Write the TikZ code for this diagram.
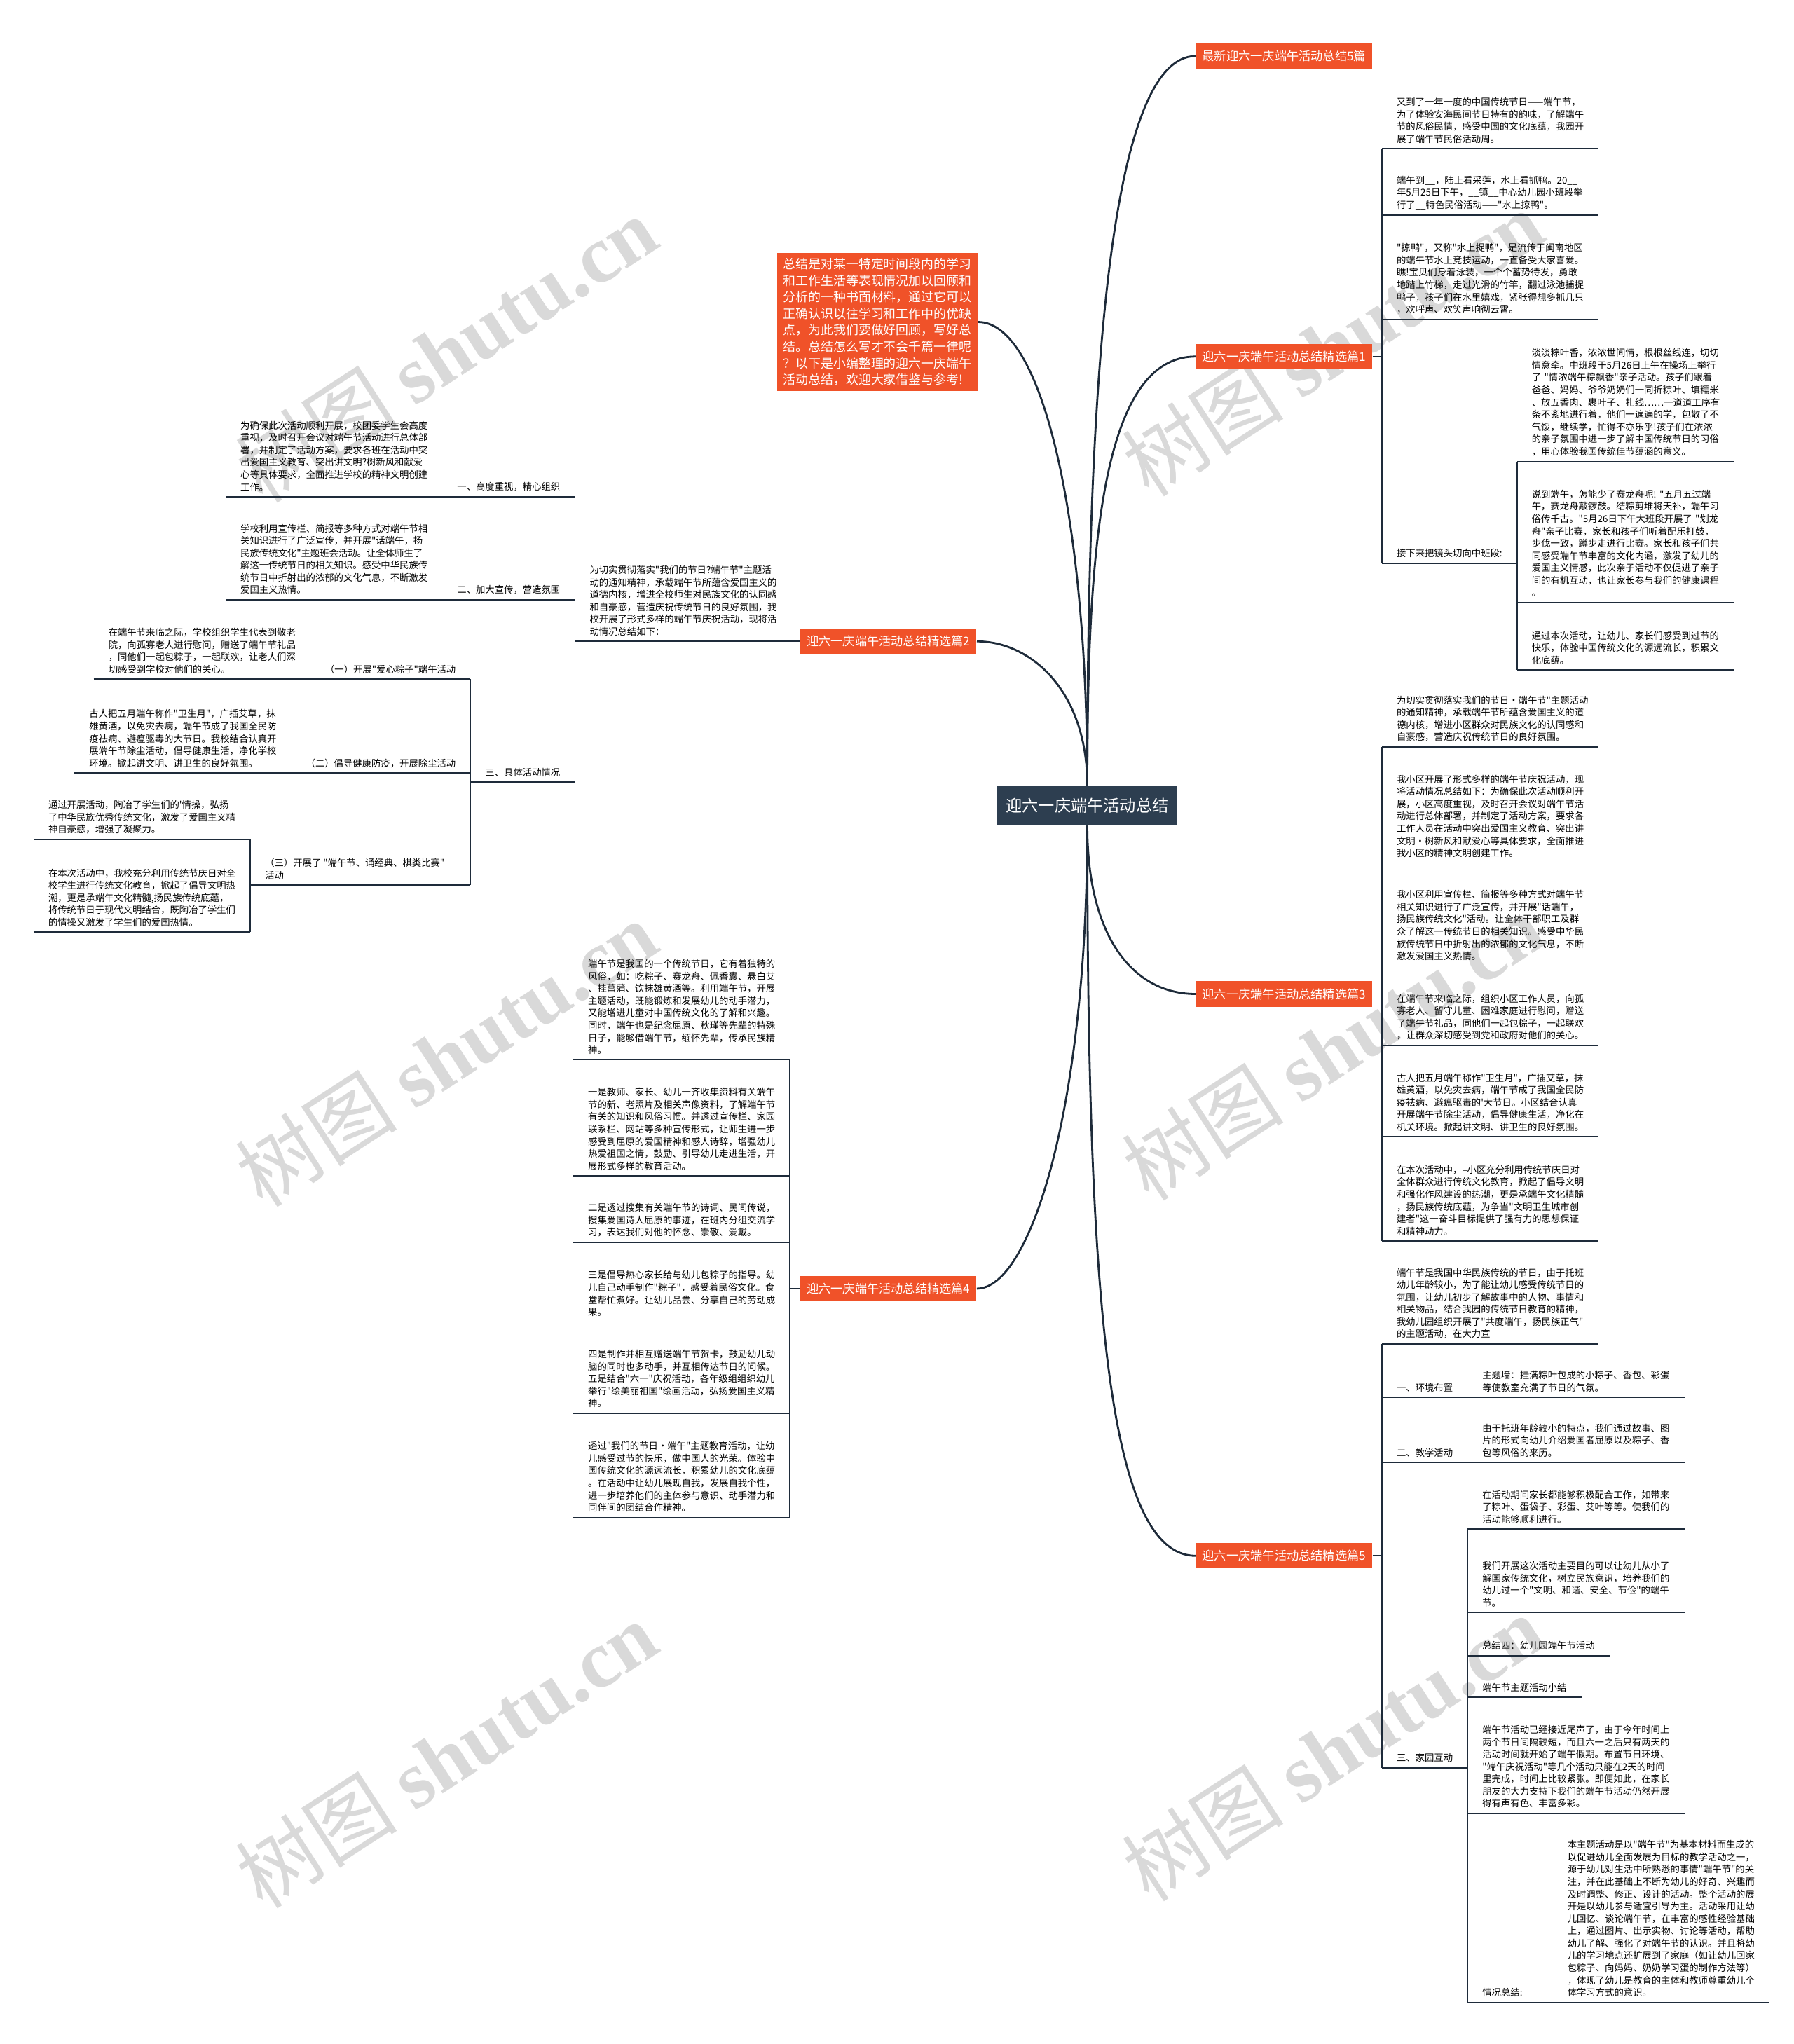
\documentclass[tikz,border=0pt]{standalone}
\usepackage{fontspec}
\usepackage{tikz}
\usetikzlibrary{positioning,calc}
\newfontfamily\cjk{Noto Sans CJK SC}
\newfontfamily\wmlatin{Liberation Serif}
\definecolor{topicred}{HTML}{F05229}
\definecolor{rootslate}{HTML}{2D3E50}
\definecolor{linknavy}{HTML}{1E2B3A}
\definecolor{wmgray}{HTML}{D9D9D9}
\tikzset{
  % knoten
  rootbox/.style={fill=rootslate,text=white,inner sep=0pt,minimum width=73pt,
             minimum height=15.9pt,font=\cjk\fontsize{6.6}{8}\selectfont},
  topic/.style={fill=topicred,text=white,inner sep=0pt,minimum width=71.4pt,
             minimum height=10.3pt,font=\cjk\fontsize{4.9}{6}\selectfont},
  note/.style={fill=topicred,text=white,inner xsep=2.4pt,inner ysep=2pt,
             text width=76.5pt,minimum height=56pt,align=left,
             font=\cjk\fontsize{5.1}{6.7}\selectfont},
  leaf/.style={inner xsep=5.8pt,inner ysep=2pt,text width=76pt,align=left,
             font=\cjk\fontsize{3.8}{5.0}\selectfont},
  word/.style={inner xsep=5.8pt,inner ysep=2pt,align=left,
             font=\cjk\fontsize{3.8}{5.0}\selectfont},
  wm/.style={text=wmgray,rotate=33,font=\cjk\fontsize{33}{33}\selectfont},
  % linjer
  ln/.style={draw=linknavy,line width=0.5pt},
  curve/.style={draw=linknavy,line width=0.8pt},
}
\begin{document}
\begin{tikzpicture}[x=0.18605mm,y=-0.18605mm]
\useasboundingbox (0,0) rectangle (1376,1568);
\fill[white] (0,0) rectangle (1376,1568);
\foreach \wx/\wy in {342/268,342/808,342/1346,1022/263,1022/803,1022/1341}
  \node[wm] (wm\wx\wy) at (\wx,\wy) {树图~{\wmlatin\bfseries shutu.cn}};

\node[rootbox] (root) at (834,618) {迎六一庆端午活动总结};
\node[topic] (p0) at (985,43) {最新迎六一庆端午活动总结5篇};
\node[topic] (p1) at (985,273.5) {迎六一庆端午活动总结精选篇1};
\node[note] (sum) at (673,247) {总结是对某一特定时间段内的学习\\和工作生活等表现情况加以回顾和\\分析的一种书面材料，通过它可以\\正确认识以往学习和工作中的优缺\\点，为此我们要做好回顾，写好总\\结。总结怎么写才不会千篇一律呢\\？以下是小编整理的迎六一庆端午\\活动总结，欢迎大家借鉴与参考!};
\node[topic] (p2) at (681.5,492) {迎六一庆端午活动总结精选篇2};
\node[topic] (p3) at (985,762.5) {迎六一庆端午活动总结精选篇3};
\node[topic] (p4) at (681.5,988.5) {迎六一庆端午活动总结精选篇4};
\node[topic] (p5) at (985,1193.5) {迎六一庆端午活动总结精选篇5};

\draw[curve] (root.north) .. controls +(0,-303) and +(-67,0) .. (p0.west);
\draw[curve] (root.north) .. controls +(0,-183) and +(-72,0) .. (p1.west);
\draw[curve] (root.north) .. controls +(0,-203) and +(50,0) .. (sum.east);
\draw[curve] (root.north) .. controls +(0,-73) and +(41,0) .. (p2.east);
\draw[curve] (root.south) .. controls +(0,87) and +(-47,0) .. (p3.west);
\draw[curve] (root.south) .. controls +(0,217) and +(41,0) .. (p4.east);
\draw[curve] (root.south) .. controls +(0,367) and +(-67,0) .. (p5.west);

\node[leaf,anchor=south west] (p1a) at (1060,114) {又到了一年一度的中国传统节日——端午节，\\为了体验安海民间节日特有的韵味，了解端午\\节的风俗民情，感受中国的文化底蕴，我园开\\展了端午节民俗活动周。};
\node[leaf,anchor=south west] (p1b) at (1060,165) {端午到\_\_，陆上看采莲，水上看抓鸭。20\_\_\\年5月25日下午，\_\_镇\_\_中心幼儿园小班段举\\行了\_\_特色民俗活动——"水上掠鸭"。};
\node[leaf,anchor=south west] (p1c) at (1060,245) {"掠鸭"，又称"水上捉鸭"，是流传于闽南地区\\的端午节水上竞技运动，一直备受大家喜爱。\\瞧!宝贝们身着泳装，一个个蓄势待发，勇敢\\地踏上竹梯，走过光滑的竹竿，翻过泳池捕捉\\鸭子，孩子们在水里嬉戏，紧张得想多抓几只\\，欢呼声、欢笑声响彻云霄。};
\node[word,anchor=south west] (p1d) at (1060,432) {接下来把镜头切向中班段:};
\node[leaf,anchor=south west] (p1e) at (p1d.south east |- 0,354) {淡淡粽叶香，浓浓世间情，根根丝线连，切切\\情意牵。中班段于5月26日上午在操场上举行\\了~"情浓端午粽飘香"亲子活动。孩子们跟着\\爸爸、妈妈、爷爷奶奶们一同折粽叶、填糯米\\、放五香肉、裹叶子、扎线……一道道工序有\\条不紊地进行着，他们一遍遍的学，包散了不\\气馁，继续学，忙得不亦乐乎!孩子们在浓浓\\的亲子氛围中进一步了解中国传统节日的习俗\\，用心体验我国传统佳节蕴涵的意义。};
\node[leaf,anchor=south west] (p1f) at (p1d.south east |- 0,462) {说到端午，怎能少了赛龙舟呢!~"五月五过端\\午，赛龙舟敲锣鼓。结粽剪堆将天补，端午习\\俗传千古。"5月26日下午大班段开展了~"划龙\\舟"亲子比赛，家长和孩子们听着配乐打鼓，\\步伐一致，蹲步走进行比赛。家长和孩子们共\\同感受端午节丰富的文化内涵，激发了幼儿的\\爱国主义情感，此次亲子活动不仅促进了亲子\\间的有机互动，也让家长参与我们的健康课程\\。};
\node[leaf,anchor=south west] (p1g) at (p1d.south east |- 0,514) {通过本次活动，让幼儿、家长们感受到过节的\\快乐，体验中国传统文化的源远流长，积累文\\化底蕴。};
\foreach \n in {p1a,p1b,p1c,p1d,p1e,p1f,p1g}
  \draw[ln] (\n.south west) -- (\n.south east);
\draw[ln] (p1a.south west) -- (p1d.south west);
\draw[ln] (p1e.south west) -- (p1g.south west);
\draw[ln] (p1.east) -- (p1.east -| p1a.south west);

\node[leaf,anchor=south west] (p2a) at (441,492) {为切实贯彻落实"我们的节日?端午节"主题活\\动的通知精神，承载端午节所蕴含爱国主义的\\道德内核，增进全校师生对民族文化的认同感\\和自豪感，营造庆祝传统节日的良好氛围，我\\校开展了形式多样的端午节庆祝活动，现将活\\动情况总结如下：};
\node[word,anchor=south east] (p2b) at (441,381) {一、高度重视，精心组织};
\node[leaf,anchor=south east] (p2b1) at (p2b.south west) {为确保此次活动顺利开展，校团委学生会高度\\重视，及时召开会议对端午节活动进行总体部\\署，并制定了活动方案，要求各班在活动中突\\出爱国主义教育、突出讲文明?树新风和献爱\\心等具体要求，全面推进学校的精神文明创建\\工作。};
\node[word,anchor=south east] (p2c) at (441,460) {二、加大宣传，营造氛围};
\node[leaf,anchor=south east] (p2c1) at (p2c.south west) {学校利用宣传栏、简报等多种方式对端午节相\\关知识进行了广泛宣传，并开展"话端午，扬\\民族传统文化"主题班会活动。让全体师生了\\解这一传统节日的相关知识。感受中华民族传\\统节日中折射出的浓郁的文化气息，不断激发\\爱国主义热情。};
\node[word,anchor=south east] (p2d) at (441,600) {三、具体活动情况};
\node[word,anchor=south east] (p2e) at (p2d.south west |- 0,521) {（一）开展"爱心粽子"端午活动};
\node[leaf,anchor=south east] (p2e1) at (p2e.south west) {在端午节来临之际，学校组织学生代表到敬老\\院，向孤寡老人进行慰问，赠送了端午节礼品\\，同他们一起包粽子，一起联欢，让老人们深\\切感受到学校对他们的关心。};
\node[word,anchor=south east] (p2f) at (p2d.south west |- 0,593) {（二）倡导健康防疫，开展除尘活动};
\node[leaf,anchor=south east] (p2f1) at (p2f.south west) {古人把五月端午称作"卫生月"，广插艾草，抹\\雄黄酒，以免灾去病，端午节成了我国全民防\\疫祛病、避瘟驱毒的大节日。我校结合认真开\\展端午节除尘活动，倡导健康生活，净化学校\\环境。掀起讲文明、讲卫生的良好氛围。};
\node[word,anchor=south west] (p2g) at (192,679) {（三）开展了~"端午节、诵经典、棋类比赛"\\活动};
\node[leaf,anchor=south east] (p2g1) at (p2g.south west |- 0,644) {通过开展活动，陶冶了学生们的'情操，弘扬\\了中华民族优秀传统文化，激发了爱国主义精\\神自豪感，增强了凝聚力。};
\node[leaf,anchor=south east] (p2g2) at (p2g.south west |- 0,715) {在本次活动中，我校充分利用传统节庆日对全\\校学生进行传统文化教育，掀起了倡导文明热\\潮，更是承端午文化精髓,扬民族传统底蕴，\\将传统节日于现代文明结合，既陶冶了学生们\\的情操又激发了学生们的爱国热情。};
\draw[ln] (p2a.south west) -- (p2.west);
\draw[ln] (p2b1.south west) -- (p2b.south east);
\draw[ln] (p2c1.south west) -- (p2c.south east);
\draw[ln] (p2d.south west) -- (p2d.south east);
\draw[ln] (p2b.south east) -- (p2d.south east);
\draw[ln] (p2e1.south west) -- (p2e.south east);
\draw[ln] (p2f1.south west) -- (p2f.south east);
\draw[ln] (p2g.south west) -- (p2g.south west -| p2e.south east);
\draw[ln] (p2e.south east) -- (p2g.south west -| p2e.south east);
\draw[ln] (p2g1.south west) -- (p2g1.south east);
\draw[ln] (p2g2.south west) -- (p2g2.south east);
\draw[ln] (p2g1.south east) -- (p2g2.south east);

\node[leaf,anchor=south west] (p3a) at (1060,573) {为切实贯彻落实我们的节日·端午节"主题活动\\的通知精神，承载端午节所蕴含爱国主义的道\\德内核，增进小区群众对民族文化的认同感和\\自豪感，营造庆祝传统节日的良好氛围。};
\node[leaf,anchor=south west] (p3b) at (1060,662) {我小区开展了形式多样的端午节庆祝活动，现\\将活动情况总结如下：为确保此次活动顺利开\\展，小区高度重视，及时召开会议对端午节活\\动进行总体部署，并制定了活动方案，要求各\\工作人员在活动中突出爱国主义教育、突出讲\\文明·树新风和献爱心等具体要求，全面推进\\我小区的精神文明创建工作。};
\node[leaf,anchor=south west] (p3c) at (1060,741) {我小区利用宣传栏、简报等多种方式对端午节\\相关知识进行了广泛宣传，并开展"话端午，\\扬民族传统文化"活动。让全体干部职工及群\\众了解这一传统节日的相关知识。感受中华民\\族传统节日中折射出的浓郁的文化气息，不断\\激发爱国主义热情。};
\node[leaf,anchor=south west] (p3d) at (1060,802) {在端午节来临之际，组织小区工作人员，向孤\\寡老人、留守儿童、困难家庭进行慰问，赠送\\了端午节礼品，同他们一起包粽子，一起联欢\\，让群众深切感受到党和政府对他们的关心。};
\node[leaf,anchor=south west] (p3e) at (1060,872) {古人把五月端午称作"卫生月"，广插艾草，抹\\雄黄酒，以免灾去病，端午节成了我国全民防\\疫祛病、避瘟驱毒的'大节日。小区结合认真\\开展端午节除尘活动，倡导健康生活，净化在\\机关环境。掀起讲文明、讲卫生的良好氛围。};
\node[leaf,anchor=south west] (p3f) at (1060,952) {在本次活动中，–小区充分利用传统节庆日对\\全体群众进行传统文化教育，掀起了倡导文明\\和强化作风建设的热潮，更是承端午文化精髓\\，扬民族传统底蕴，为争当"文明卫生城市创\\建者"这一奋斗目标提供了强有力的思想保证\\和精神动力。};
\foreach \n in {p3a,p3b,p3c,p3d,p3e,p3f}
  \draw[ln] (\n.south west) -- (\n.south east);
\draw[ln] (p3a.south west) -- (p3f.south west);
\draw[ln] (p3.east) -- (p3.east -| p3a.south west);

\node[leaf,anchor=south east] (p4a) at (606,813) {端午节是我国的一个传统节日，它有着独特的\\风俗，如：吃粽子、赛龙舟、佩香囊、悬白艾\\、挂菖蒲、饮抹雄黄酒等。利用端午节，开展\\主题活动，既能锻炼和发展幼儿的动手潜力，\\又能增进儿童对中国传统文化的了解和兴趣。\\同时，端午也是纪念屈原、秋瑾等先辈的特殊\\日子，能够借端午节，缅怀先辈，传承民族精\\神。};
\node[leaf,anchor=south east] (p4b) at (606,902) {一是教师、家长、幼儿一齐收集资料有关端午\\节的新、老照片及相关声像资料，了解端午节\\有关的知识和风俗习惯。并透过宣传栏、家园\\联系栏、网站等多种宣传形式，让师生进一步\\感受到屈原的爱国精神和感人诗辞，增强幼儿\\热爱祖国之情，鼓励、引导幼儿走进生活，开\\展形式多样的教育活动。};
\node[leaf,anchor=south east] (p4c) at (606,953) {二是透过搜集有关端午节的诗词、民间传说，\\搜集爱国诗人屈原的事迹，在班内分组交流学\\习，表达我们对他的怀念、崇敬、爱戴。};
\node[leaf,anchor=south east] (p4d) at (606,1014) {三是倡导热心家长给与幼儿包粽子的指导。幼\\儿自己动手制作"粽子"，感受着民俗文化。食\\堂帮忙煮好。让幼儿品尝、分享自己的劳动成\\果。};
\node[leaf,anchor=south east] (p4e) at (606,1084) {四是制作并相互赠送端午节贺卡，鼓励幼儿动\\脑的同时也多动手，并互相传达节日的问候。\\五是结合"六一"庆祝活动，各年级组组织幼儿\\举行"绘美丽祖国"绘画活动，弘扬爱国主义精\\神。};
\node[leaf,anchor=south east] (p4f) at (606,1164) {透过"我们的节日·端午"主题教育活动，让幼\\儿感受过节的快乐，做中国人的光荣。体验中\\国传统文化的源远流长，积累幼儿的文化底蕴\\。在活动中让幼儿展现自我，发展自我个性，\\进一步培养他们的主体参与意识、动手潜力和\\同伴间的团结合作精神。};
\foreach \n in {p4a,p4b,p4c,p4d,p4e,p4f}
  \draw[ln] (\n.south west) -- (\n.south east);
\draw[ln] (p4a.south east) -- (p4f.south east);
\draw[ln] (p4.west) -- (p4.west -| p4a.south east);

\node[leaf,anchor=south west] (p5a) at (1060,1031) {端午节是我国中华民族传统的节日，由于托班\\幼儿年龄较小，为了能让幼儿感受传统节日的\\氛围，让幼儿初步了解故事中的人物、事情和\\相关物品，结合我园的传统节日教育的精神，\\我幼儿园组织开展了"共度端午，扬民族正气"\\的主题活动，在大力宣};
\node[word,anchor=south west] (p5b) at (1060,1072) {一、环境布置};
\node[leaf,anchor=south west] (p5b1) at (p5b.south east) {主题墙：挂满粽叶包成的小粽子、香包、彩蛋\\等使教室充满了节日的气氛。};
\node[word,anchor=south west] (p5c) at (1060,1122) {二、教学活动};
\node[leaf,anchor=south west] (p5c1) at (p5c.south east) {由于托班年龄较小的特点，我们通过故事、图\\片的形式向幼儿介绍爱国者屈原以及粽子、香\\包等风俗的来历。};
\node[word,anchor=south west] (p5d) at (1060,1356) {三、家园互动};
\node[leaf,anchor=south west] (p5d1) at (p5d.south east |- 0,1173) {在活动期间家长都能够积极配合工作，如带来\\了粽叶、蛋袋子、彩蛋、艾叶等等。使我们的\\活动能够顺利进行。};
\node[leaf,anchor=south west] (p5d2) at (p5d.south east |- 0,1237) {我们开展这次活动主要目的可以让幼儿从小了\\解国家传统文化，树立民族意识，培养我们的\\幼儿过一个"文明、和谐、安全、节俭"的端午\\节。};
\node[word,anchor=south west] (p5d3) at (p5d.south east |- 0,1270) {总结四：幼儿园端午节活动};
\node[word,anchor=south west] (p5d4) at (p5d.south east |- 0,1302) {端午节主题活动小结};
\node[leaf,anchor=south west] (p5d5) at (p5d.south east |- 0,1391) {端午节活动已经接近尾声了，由于今年时间上\\两个节日间隔较短，而且六一之后只有两天的\\活动时间就开始了端午假期。布置节日环境、\\"端午庆祝活动"等几个活动只能在2天的时间\\里完成，时间上比较紧张。即便如此，在家长\\朋友的大力支持下我们的端午节活动仍然开展\\得有声有色、丰富多彩。};
\node[word,anchor=south west] (p5d6) at (p5d.south east |- 0,1536) {情况总结:};
\node[leaf,anchor=south west] (p5d7) at (1191,1536) {本主题活动是以"端午节"为基本材料而生成的\\以促进幼儿全面发展为目标的教学活动之一，\\源于幼儿对生活中所熟悉的事情"端午节"的关\\注，并在此基础上不断为幼儿的好奇、兴趣而\\及时调整、修正、设计的活动。整个活动的展\\开是以幼儿参与适宜引导为主。活动采用让幼\\儿回忆、谈论端午节，在丰富的感性经验基础\\上，通过图片、出示实物、讨论等活动，帮助\\幼儿了解、强化了对端午节的认识。并且将幼\\儿的学习地点还扩展到了家庭（如让幼儿回家\\包粽子、向妈妈、奶奶学习蛋的制作方法等）\\，体现了幼儿是教育的主体和教师尊重幼儿个\\体学习方式的意识。};
\foreach \n in {p5a,p5d,p5d1,p5d2,p5d3,p5d4,p5d5}
  \draw[ln] (\n.south west) -- (\n.south east);
\draw[ln] (p5b.south west) -- (p5b1.south east);
\draw[ln] (p5c.south west) -- (p5c1.south east);
\draw[ln] (p5d6.south west) -- (p5d7.south east);
\draw[ln] (p5a.south west) -- (p5d.south west);
\draw[ln] (p5d1.south west) -- (p5d6.south west);
\draw[ln] (p5.east) -- (p5.east -| p5a.south west);
\end{tikzpicture}
\end{document}
